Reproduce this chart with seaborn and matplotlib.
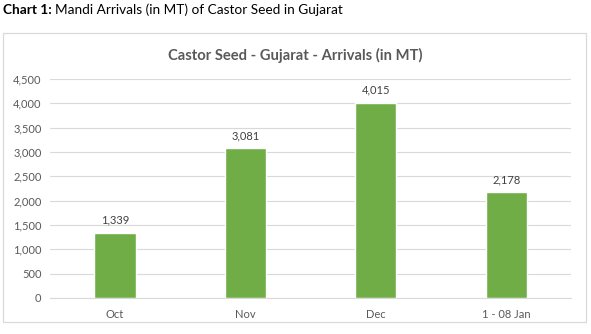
import matplotlib
matplotlib.use("Agg")
import matplotlib.pyplot as plt
import seaborn as sns
import pandas as pd
from matplotlib.patches import Rectangle

categories = ["Oct", "Nov", "Dec", "1 - 08 Jan"]
arrivals = [1339, 3081, 4015, 2178]
yticks = [0, 500, 1000, 1500, 2000, 2500, 3000, 3500, 4000, 4500]

sns.set_theme(style="white")
plt.rcParams['font.family'] = ['Lato', 'DejaVu Sans']

df = pd.DataFrame({"month": categories, "value": arrivals})

fig = plt.figure(figsize=(5.91, 3.34), dpi=100)
fig.patches.append(Rectangle((3/591, 1-322/334), 583/591, 289/334, transform=fig.transFigure,
                             fill=False, edgecolor="#D9D9D9", linewidth=0.9))

ax = fig.add_axes([49.8/591, 1-298/334, 521.6/591, 219/334])
sns.barplot(data=df, x="month", y="value", color="#70AD47", width=0.315, ax=ax, saturation=1)

ax.set_ylim(0, 4500)
ax.set_xlim(-0.5, 3.5)
ax.set_yticks(yticks)
ax.set_yticklabels([f"{v:,}" for v in yticks])
ax.yaxis.grid(True, color="#D9D9D9", linewidth=0.8)
ax.set_axisbelow(True)
for s in ["top", "right", "left"]:
    ax.spines[s].set_visible(False)
ax.spines["bottom"].set_color("#D9D9D9")
ax.spines["bottom"].set_linewidth(0.8)
ax.tick_params(axis="both", length=0, labelsize=8, colors="#595959", pad=6)
ax.tick_params(axis="x", pad=8)
ax.set_xlabel("")
ax.set_ylabel("")

for i, v in enumerate(arrivals):
    ax.annotate(f"{v:,}", (i, v), xytext=(0, 5), textcoords="offset points",
                ha="center", va="bottom", fontsize=8, color="#404040")

fig.text(295/591, 1-55/334, "Castor Seed - Gujarat - Arrivals (in MT)", ha="center", va="center",
         fontsize=10.6, fontweight="bold", color="#595959")
t1 = fig.text(3/591, 1-10/334, "Chart 1:", ha="left", va="center", fontsize=9.8,
              fontweight="bold", color="black")
fig.canvas.draw()
bb = t1.get_window_extent(renderer=fig.canvas.get_renderer())
fig.text((bb.x1 + 3)/591, 1-10/334, "Mandi Arrivals (in MT) of Castor Seed in Gujarat", ha="left",
         va="center", fontsize=9.8, color="black")

fig.savefig("out.png", dpi=100)
